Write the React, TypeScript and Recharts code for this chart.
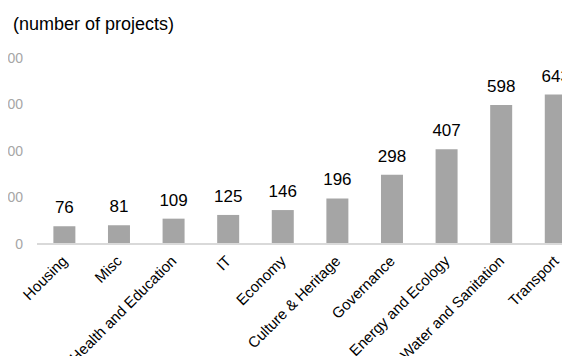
import React from "react";
import { BarChart, Bar, XAxis, YAxis, LabelList } from "recharts";

const categories = [
  "Housing",
  "Misc",
  "Health and Education",
  "IT",
  "Economy",
  "Culture & Heritage",
  "Governance",
  "Energy and Ecology",
  "Water and Sanitation",
  "Transport",
];
const projects = [76, 81, 109, 125, 146, 196, 298, 407, 598, 643];
const yTicks = [0, 200, 400, 600, 800];

const data = categories.map((name, i) => ({ name, projects: projects[i] }));

const font = "'Liberation Sans', Arial, sans-serif";

// slanted category label, anchored at its end just below the axis
function SlantTick(props: any) {
  const { x, y, payload } = props;
  const ax = x + 4;
  const ay = y + 10;
  return (
    <text
      x={ax}
      y={ay}
      textAnchor="end"
      transform={`rotate(-45, ${ax}, ${ay})`}
      fill="#000"
      fontSize={15}
      fontFamily={font}
    >
      {payload.value}
    </text>
  );
}

export default function App() {
  return (
    <div
      style={{
        margin: -8,
        width: 570,
        height: 364,
        overflow: "hidden",
        position: "relative",
        fontFamily: font,
      }}
    >
      <div
        style={{
          position: "absolute",
          left: 13,
          top: 14,
          fontSize: 18,
          color: "#000",
        }}
      >
        (number of projects)
      </div>
      <div style={{ position: "absolute", left: 0, top: 0 }}>
        <BarChart
          width={590}
          height={364}
          data={data}
          margin={{ top: 58, right: 7, bottom: 0, left: 0 }}
          barCategoryGap="30%"
        >
          <XAxis
            dataKey="name"
            interval={0}
            height={120}
            tickLine={false}
            axisLine={{ stroke: "#d9d9d9", strokeWidth: 2 }}
            tick={<SlantTick />}
          />
          <YAxis
            width={37}
            domain={[0, 800]}
            ticks={yTicks}
            tickLine={false}
            axisLine={false}
            tickSize={0}
            tickMargin={14}
            tick={{ fill: "#a6a6a6", fontSize: 14, fontFamily: font }}
          />
          <Bar dataKey="projects" fill="#a5a5a5" isAnimationActive={false}>
            <LabelList
              dataKey="projects"
              position="top"
              offset={13}
              style={{ fill: "#000", fontSize: 17, fontFamily: font }}
            />
          </Bar>
        </BarChart>
      </div>
    </div>
  );
}
